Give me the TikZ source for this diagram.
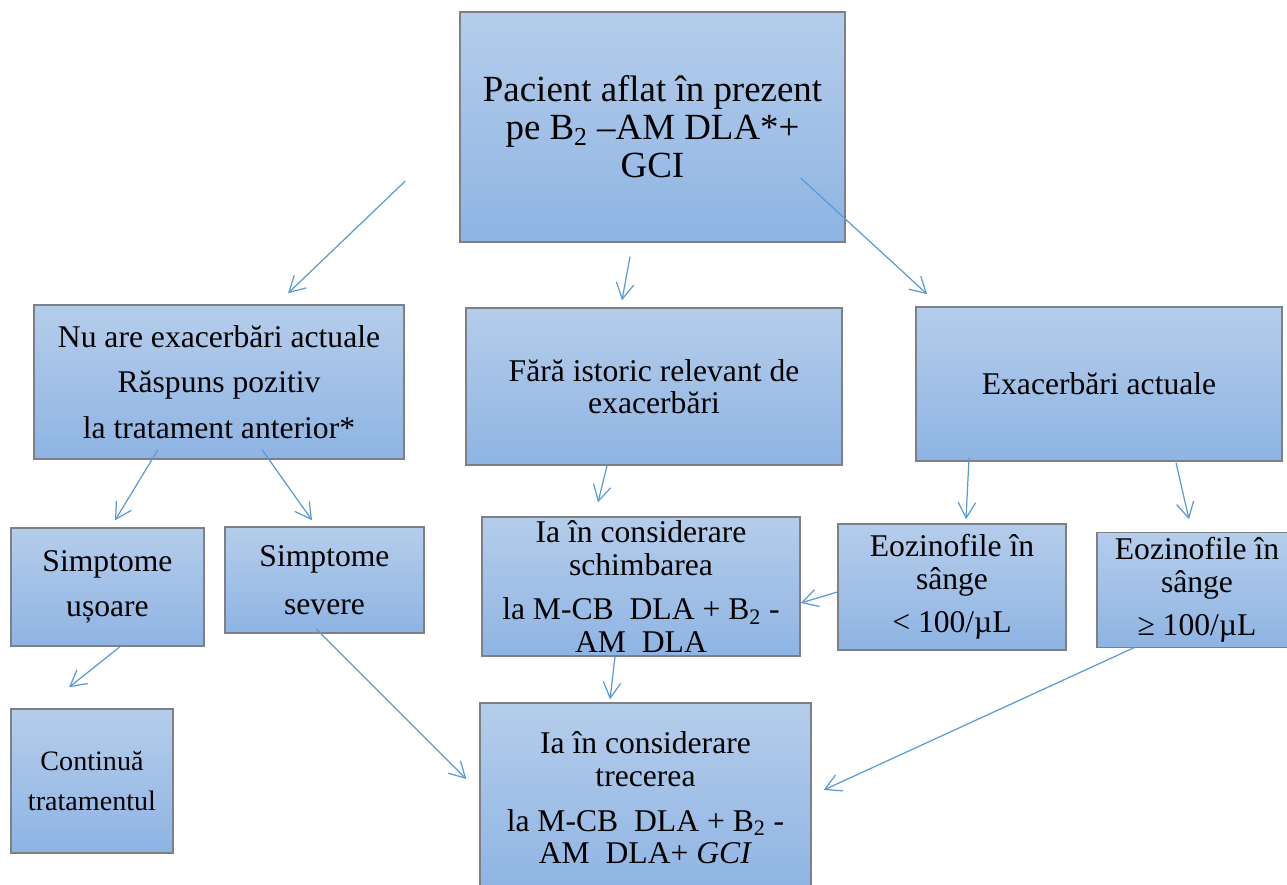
\documentclass[tikz,border=0pt]{standalone}
\usepackage{fontspec}
\setmainfont{Liberation Serif}
\usetikzlibrary{arrows.meta, calc}

\definecolor{boxtop}{RGB}{181,205,235}
\definecolor{boxbot}{RGB}{142,180,227}
\definecolor{boxline}{RGB}{125,128,134}
\definecolor{arrowblue}{RGB}{91,155,213}

\tikzset{
	box/.style = {draw = boxline, line width = 0.8pt, top color = boxtop, bottom color = boxbot,
		align = center, inner sep = 2pt, font = \fontsize{18}{18.5}\selectfont},
	link/.style = {arrowblue, line width = 0.7pt, -{Straight Barb[length = 9pt, width = 10pt]}}
}

\begin{document}
\begin{tikzpicture}[x = 0.02cm, y = -0.02cm]
	
	% Page frame
	
	\useasboundingbox (0, 0) rectangle (1287, 885);
	\clip (0, 0) rectangle (1287, 885);
	
	% Top box
	
	\node [box, minimum width = 7.7cm, minimum height = 4.6cm, font = \fontsize{21}{21.6}\selectfont]
		(patient) at (652.5, 127) {Pacient aflat în prezent\\pe B\textsubscript{2} –AM DLA*+\\GCI};
	
	% Second row
	
	\node [box, minimum width = 7.4cm, minimum height = 3.08cm, font = \fontsize{18}{26}\selectfont]
		(noexac) at (219, 382) {Nu are exacerbări actuale\\Răspuns pozitiv\\la tratament anterior*};
	\node [box, minimum width = 7.52cm, minimum height = 3.14cm]
		(nohist) at (654, 386.5) {Fără istoric relevant de\\exacerbări};
	\node [box, minimum width = 7.32cm, minimum height = 3.08cm]
		(exac) at (1099, 384) {Exacerbări actuale};
	
	% Third row
	
	\node [box, minimum width = 3.86cm, minimum height = 2.36cm, font = \fontsize{18}{25.6}\selectfont]
		(mild) at (107.5, 587) {Simptome\\ușoare};
	\node [box, minimum width = 3.98cm, minimum height = 2.12cm, font = \fontsize{18}{27}\selectfont]
		(severe) at (324.5, 580) {Simptome\\severe};
	\node [box, minimum width = 6.36cm, minimum height = 2.78cm]
		(switch) at (641, 586.5) {Ia în considerare\\schimbarea\\[7pt]la M-CB\ \ DLA + B\textsubscript{2} -\\AM\ \ DLA};
	\node [box, minimum width = 4.56cm, minimum height = 2.52cm]
		(eoslow) at (952, 587) {Eozinofile în\\sânge\\[6pt]< 100/µL};
	\node [box, minimum width = 4cm, minimum height = 2.3cm]
		(eoshigh) at (1197, 590) {Eozinofile în\\sânge\\[6pt]≥ 100/µL};
	
	% Bottom row
	
	\node [box, minimum width = 3.24cm, minimum height = 2.88cm, font = \fontsize{16}{22.8}\selectfont]
		(cont) at (92, 781) {Continuă\\tratamentul};
	\node [box, minimum width = 6.62cm, minimum height = 3.8cm]
		(shift) at (645.5, 798) {Ia în considerare\\trecerea\\[7pt]la M-CB\ \ DLA + B\textsubscript{2} -\\AM\ \ DLA+ \textit{GCI}};
	
	% Arrows
	
	\begin{scope}[link]
	
		\draw ($(patient.west) + (-54, 54)$) -- ($(noexac.north) + (69, -11)$);
		\draw ($(patient.south) + (-22.5, 14)$) -- ($(nohist.north) + (-32, -7)$);
		\draw ($(patient.east) + (-45, 51)$) -- ($(exac.north west) + (12, -12)$);
		
		\draw ($(noexac.south) + (-61, -10)$) -- ($(mild.north) + (7.5, -7)$);
		\draw ($(noexac.south) + (43, -10)$) -- ($(severe.north) + (-12.5, -6)$);
		\draw ($(nohist.south) + (-47, 0)$) -- ($(switch.north) + (-43, -14)$);
		\draw ($(exac.south) + (-130, -4)$) -- ($(eoslow.north) + (14, -4)$);
		\draw ($(exac.south) + (77, 1)$) -- ($(eoshigh.north) + (-8, -12.5)$);
		
		\draw ($(eoslow.west) + (0, 5)$) -- ($(switch.east) + (0, 16.5)$);
		\draw ($(mild.south) + (12.5, 0)$) -- ($(cont.north) + (-23, -21)$);
		\draw ($(severe.south) + (-8.5, -5)$) -- ($(shift.west) + (-13, -19)$);
		\draw ($(switch.south) + (-26, 0)$) -- ($(shift.north) + (-35.5, -3)$);
		\draw ($(eoshigh.south) + (-63, -0.5)$) -- ($(shift.east) + (12, -8)$);
		
	\end{scope}

\end{tikzpicture}
\end{document}
